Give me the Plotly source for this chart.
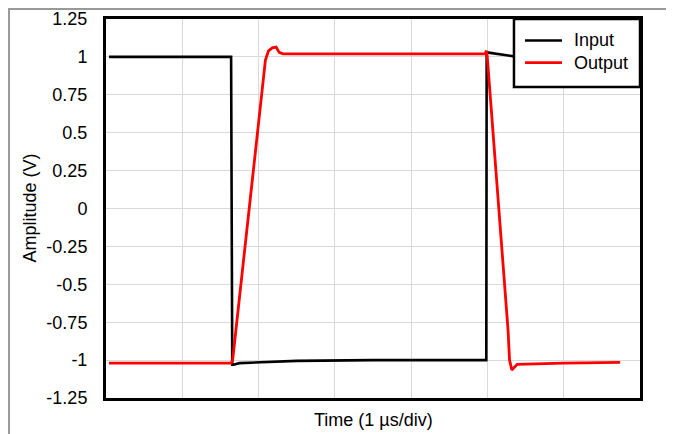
import plotly.graph_objects as go

# Time in divisions (1 µs/div)
input_t = [0.04, 1.64, 1.655, 1.67, 1.75, 2.5, 3.5, 4.985, 4.99, 5.05, 5.4, 6.74]
input_v = [1.0, 1.0, -1.03, -1.03, -1.02, -1.005, -1.0, -1.0, 1.03, 1.025, 1.0, 1.0]

output_t = [0.04, 1.64, 1.66, 2.04, 2.09, 2.13, 2.18, 2.23, 2.27, 2.32, 3.5, 4.97, 4.985, 4.995, 5.27, 5.29, 5.32, 5.39, 6.0, 6.74]
output_v = [-1.02, -1.02, -1.0, 0.72, 0.98, 1.04, 1.06, 1.065, 1.03, 1.02, 1.02, 1.02, 1.04, 1.02, -0.80, -1.0, -1.065, -1.028, -1.02, -1.015]

ytick_vals = [1.25, 1.0, 0.75, 0.5, 0.25, 0.0, -0.25, -0.5, -0.75, -1.0, -1.25]
ytick_text = ["1.25", "1", "0.75", "0.5", "0.25", "0", "-0.25", "-0.5", "-0.75", "-1", "-1.25"]
xgrid_vals = [0, 1, 2, 3, 4, 5, 6, 7]

series_names = ["Input", "Output"]
series_colors = ["#000000", "#ff0000"]
series_widths = [2.6, 2.8]

FONT = "Liberation Sans, Arial, sans-serif"
FS = 18

fig = go.Figure()
fig.add_trace(go.Scatter(x=input_t, y=input_v, mode="lines", name=series_names[0],
                         showlegend=False,
                         line=dict(color=series_colors[0], width=series_widths[0])))
fig.add_trace(go.Scatter(x=output_t, y=output_v, mode="lines", name=series_names[1],
                         showlegend=False,
                         line=dict(color=series_colors[1], width=series_widths[1])))

# legend box drawn in paper coordinates (compact, like the reference)
leg_x0, leg_x1, leg_y0, leg_y1 = 0.764, 1.0, 0.8206, 1.0
sample_x0, sample_x1, text_x = 0.7846, 0.8539, 0.8727
row_y = [0.9433, 0.8847]

shapes = [
    dict(type="rect", xref="paper", yref="paper", x0=leg_x0, x1=leg_x1, y0=leg_y0, y1=leg_y1,
         fillcolor="white", line=dict(color="#000000", width=2.5), layer="above"),
    dict(type="line", xref="paper", yref="paper", x0=-0.1816, x1=1.07,
         y0=1.0264, y1=1.0264, line=dict(color="#999999", width=2)),
    dict(type="line", xref="paper", yref="paper", x0=-0.1816, x1=-0.1816,
         y0=1.03, y1=-0.1, line=dict(color="#999999", width=2)),
]
annotations = [
    dict(text="Time (1 µs/div)", xref="paper", yref="paper", x=0.5, y=-0.058,
         xanchor="center", yanchor="middle", showarrow=False,
         font=dict(family=FONT, size=FS)),
    dict(text="Amplitude (V)", xref="paper", yref="paper", x=-0.144, y=0.5,
         xanchor="center", yanchor="middle", textangle=-90, showarrow=False,
         font=dict(family=FONT, size=FS)),
]
for name, color, width, ry in zip(series_names, series_colors, series_widths, row_y):
    shapes.append(dict(type="line", xref="paper", yref="paper", x0=sample_x0, x1=sample_x1,
                       y0=ry, y1=ry, line=dict(color=color, width=width), layer="above"))
    annotations.append(dict(text=name, xref="paper", yref="paper", x=text_x, y=ry,
                            xanchor="left", yanchor="middle", showarrow=False,
                            font=dict(family=FONT, size=FS, color="#000000")))

# page has an 8px body offset: figure sized to fit the window
fig.update_layout(
    width=666, height=426,
    margin=dict(l=98, r=34, t=11, b=36),
    paper_bgcolor="white", plot_bgcolor="white",
    font=dict(family=FONT, size=FS, color="#000000"),
    showlegend=False,
    xaxis=dict(range=[0, 7], tickvals=xgrid_vals, showticklabels=False,
               showgrid=True, gridcolor="#d9d9d9", gridwidth=1,
               showline=True, linecolor="#000000", linewidth=3, mirror=True,
               zeroline=False, ticks="", automargin=False),
    yaxis=dict(range=[-1.25, 1.25], tickvals=ytick_vals, ticktext=ytick_text,
               showgrid=True, gridcolor="#d9d9d9", gridwidth=1,
               showline=True, linecolor="#000000", linewidth=3, mirror=True,
               zeroline=False, ticks="", ticklabelstandoff=12, automargin=False,
               tickfont=dict(family=FONT, size=FS)),
    annotations=annotations,
    shapes=shapes,
)

fig.write_html("out.html")
